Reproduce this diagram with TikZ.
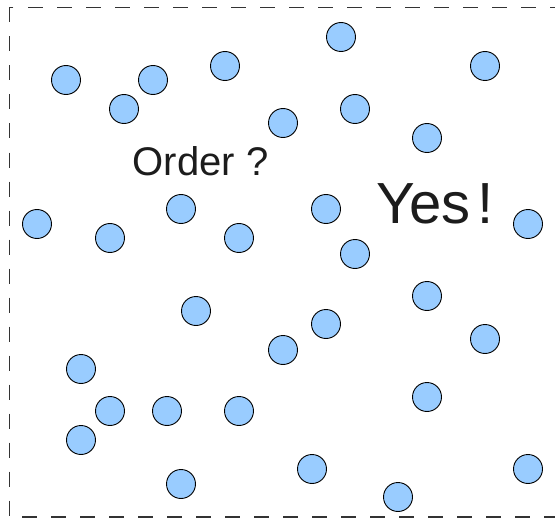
\documentclass[tikz,border=0pt]{standalone}
\usepackage{fontspec}
\setmainfont{Liberation Sans}
\usepackage{tikz}
\definecolor{ballblue}{RGB}{153,204,255}
\definecolor{inkgray}{RGB}{28,28,28}
\tikzset{
  ball/.style={circle,draw=black,fill=ballblue,line width=0.9pt,minimum size=29pt,inner sep=0pt},
  frame/.style={draw=black!80,line width=1.2pt,dash pattern=on 15pt off 14pt},
  word/.style={text=inkgray,inner sep=0pt},
}
\begin{document}
\begin{tikzpicture}[x=1pt,y=-1pt]
  \useasboundingbox (0,0) rectangle (555,519);
  \clip (0,0) rectangle (555,519);
  \draw[frame] (9.5,7.5) rectangle (575,517);
  % the balls
  \foreach \i/\px/\py in {1/66/80,2/153/80,3/124/109,4/225/66,5/341/37,6/485/66,
      7/283/123,8/355/109,9/427/138,10/37/224,11/110/238,12/181/209,13/239/238,
      14/326/209,15/355/254,16/528/224,17/196/311,18/427/296,19/326/324,
      20/283/350,21/485/339,22/81/369,23/110/411,24/167/411,25/239/411,
      26/427/397,27/81/440,28/181/484,29/312/469,30/398/497,31/528/469}
    \node[ball] (b\i) at (\px,\py) {};
  \node[word,font=\fontsize{40}{42}\selectfont] (order) at (200.5,161) {Order ?};
  \node[word,font=\fontsize{58}{60}\selectfont] (yes) at (435,204) {Yes\kern0.12em!};
\end{tikzpicture}
\end{document}
